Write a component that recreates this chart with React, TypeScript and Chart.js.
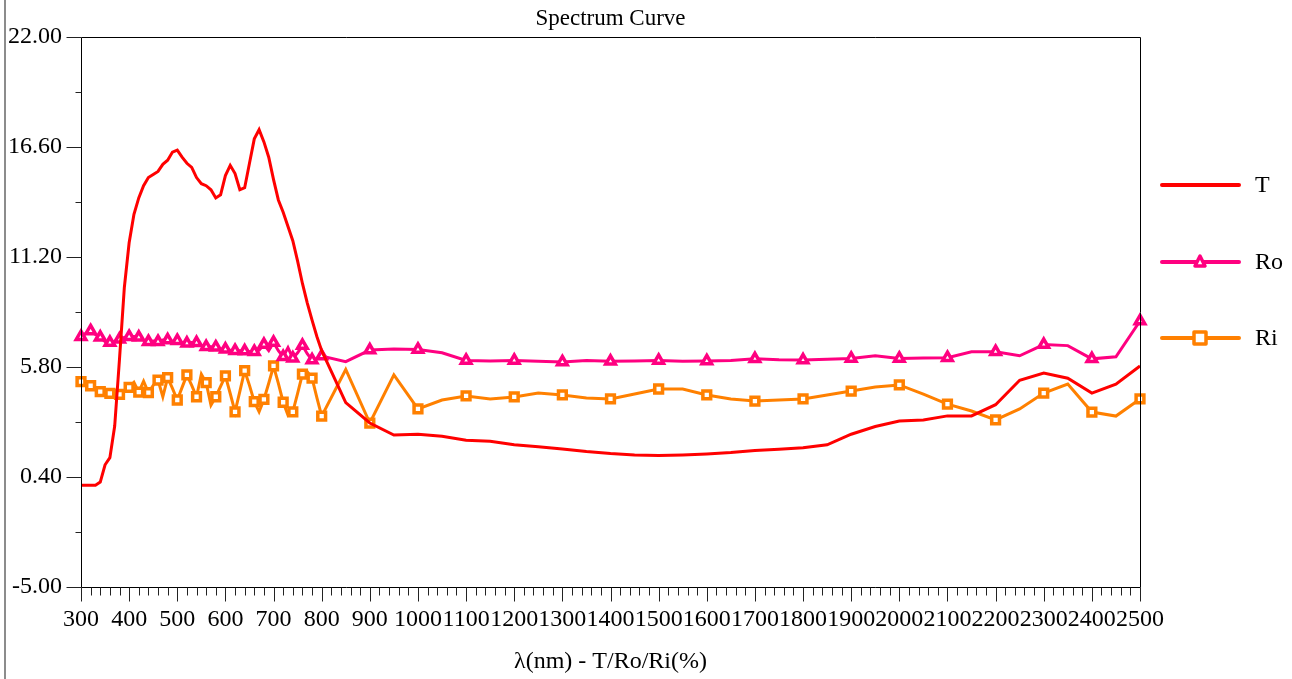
import React, { useEffect, useRef } from "react";
import { Chart, registerables } from "chart.js";

Chart.register(...registerables);

const wavelengths = [
  300, 310, 320, 330, 340, 350, 360, 370, 380, 390,
  400, 410, 420, 430, 440, 450, 460, 470, 480, 490,
  500, 510, 520, 530, 540, 550, 560, 570, 580, 590,
  600, 610, 620, 630, 640, 650, 660, 670, 680, 690,
  700, 710, 720, 730, 740, 750, 760, 770, 780, 790,
  800, 850, 900, 950, 1000, 1050, 1100, 1150, 1200, 1250,
  1300, 1350, 1400, 1450, 1500, 1550, 1600, 1650, 1700, 1750,
  1800, 1850, 1900, 1950, 2000, 2050, 2100, 2150, 2200, 2250,
  2300, 2350, 2400, 2450, 2500,
];

const seriesT = [
  0.0, 0.0, 0.0, 0.0, 0.15, 1.0, 1.35, 2.9, 6.2, 9.7,
  11.9, 13.3, 14.1, 14.7, 15.1, 15.25, 15.4, 15.75, 15.95, 16.35,
  16.45, 16.1, 15.8, 15.6, 15.1, 14.8, 14.7, 14.5, 14.1, 14.25,
  15.2, 15.7, 15.3, 14.5, 14.6, 15.8, 17.0, 17.45, 16.85, 16.1,
  15.0, 14.0, 13.4, 12.7, 12.0, 11.0, 9.9, 8.95, 8.1, 7.3,
  6.6, 4.05, 3.05, 2.46, 2.5, 2.4, 2.2, 2.15, 1.98, 1.88,
  1.78, 1.65, 1.55, 1.48, 1.45, 1.48, 1.53, 1.6, 1.7, 1.76,
  1.84, 1.98, 2.5, 2.88, 3.15, 3.2, 3.4, 3.4, 3.95, 5.15,
  5.5, 5.25, 4.52, 4.96, 5.85,
];

const seriesRo = [
  7.29, 7.45, 7.57, 7.4, 7.26, 7.05, 7.0, 7.06, 7.16, 7.25,
  7.29, 7.3, 7.26, 7.12, 7.04, 7.08, 7.04, 7.12, 7.12, 7.06,
  7.09, 7.0, 6.96, 7.0, 6.99, 6.86, 6.79, 6.8, 6.77, 6.7,
  6.67, 6.62, 6.6, 6.6, 6.58, 6.56, 6.55, 6.62, 6.9, 6.6,
  7.0, 6.6, 6.3, 6.75, 6.23, 6.5, 6.85, 6.45, 6.14, 6.2,
  6.34, 6.06, 6.63, 6.68, 6.66, 6.5, 6.12, 6.1, 6.12, 6.08,
  6.05, 6.12, 6.08, 6.1, 6.12, 6.08, 6.1, 6.12, 6.2, 6.15,
  6.14, 6.18, 6.22, 6.35, 6.22, 6.24, 6.26, 6.55, 6.55, 6.35,
  6.9, 6.85, 6.2, 6.3, 8.06,
];

const seriesRi = [
  5.08, 5.0, 4.88, 4.75, 4.59, 4.55, 4.51, 4.48, 4.46, 4.6,
  4.8, 5.05, 4.57, 5.1, 4.54, 4.9, 5.16, 4.34, 5.28, 4.75,
  4.18, 4.8, 5.41, 4.9, 4.34, 5.45, 5.03, 3.93, 4.34, 4.85,
  5.36, 4.5, 3.6, 4.6, 5.62, 4.9, 4.1, 3.6, 4.21, 5.0,
  5.85, 5.0, 4.07, 3.44, 3.6, 4.5, 5.45, 5.57, 5.25, 4.3,
  3.39, 5.68, 3.05, 5.41, 3.74, 4.18, 4.38, 4.23, 4.33, 4.52,
  4.43, 4.28, 4.23, 4.47, 4.72, 4.72, 4.43, 4.23, 4.13, 4.18,
  4.23, 4.43, 4.62, 4.82, 4.92, 4.47, 3.98, 3.64, 3.2, 3.74,
  4.52, 4.96, 3.59, 3.39, 4.23,
];

const seriesNames = ["T", "Ro", "Ri"];
const yTickValues = [-5, 0.4, 5.8, 11.2, 16.6, 22];
const xTickValues = [
  300, 400, 500, 600, 700, 800, 900, 1000, 1100, 1200, 1300, 1400,
  1500, 1600, 1700, 1800, 1900, 2000, 2100, 2200, 2300, 2400, 2500,
];
const chartTitle = "Spectrum Curve";
const xAxisTitle = "λ(nm) - T/Ro/Ri(%)";

const COLORS = { T: "#ff0000", Ro: "#ff0080", Ri: "#ff8000" };
const FONT = "'Liberation Serif', 'Times New Roman', serif";

const decorPlugin = {
  id: "decor",
  afterDraw(chart: any) {
    const ctx = chart.ctx;
    const { left, right, top, bottom } = chart.chartArea;
    const xs = chart.scales.x;
    const ys = chart.scales.y;
    ctx.save();
    // page left border
    ctx.fillStyle = "#8c8c8c";
    ctx.fillRect(4, 0, 2, chart.height);

    ctx.strokeStyle = "#000";
    ctx.lineWidth = 1;
    const L = Math.round(left) + 0.5;
    const R = Math.round(right) + 0.5;
    const T = Math.round(top) + 0.5;
    const B = Math.round(bottom) + 0.5;
    ctx.beginPath();
    ctx.moveTo(L, T);
    ctx.lineTo(R, T);
    ctx.lineTo(R, B);
    ctx.lineTo(L, B);
    ctx.closePath();
    ctx.stroke();

    ctx.strokeStyle = "#222";
    ctx.beginPath();
    // y ticks
    for (let i = 0; i < yTickValues.length; i++) {
      const y = Math.round(ys.getPixelForValue(yTickValues[i])) + 0.5;
      ctx.moveTo(L - 15, y);
      ctx.lineTo(L, y);
      if (i < yTickValues.length - 1) {
        const mid = (yTickValues[i] + yTickValues[i + 1]) / 2;
        const ym = Math.round(ys.getPixelForValue(mid)) + 0.5;
        ctx.moveTo(L - 6, ym);
        ctx.lineTo(L, ym);
      }
    }
    // x ticks
    for (let v = xTickValues[0]; v <= xTickValues[xTickValues.length - 1]; v += 20) {
      const x = Math.round(xs.getPixelForValue(v)) + 0.5;
      const major = v % 100 === 0;
      ctx.moveTo(x, B);
      ctx.lineTo(x, B + (major ? 14 : 8));
    }
    ctx.stroke();

    // legend
    const legendYs = [185, 262, 338];
    seriesNames.forEach((name, i) => {
      const y = legendYs[i];
      const c = (COLORS as any)[name];
      ctx.strokeStyle = c;
      ctx.lineWidth = 4;
      ctx.lineCap = "round";
      ctx.lineJoin = "round";
      ctx.beginPath();
      ctx.moveTo(1162, y);
      ctx.lineTo(1239, y);
      ctx.stroke();
      ctx.lineWidth = 3.5;
      if (name === "Ro") {
        ctx.fillStyle = "#fff";
        ctx.beginPath();
        ctx.moveTo(1200, y - 6);
        ctx.lineTo(1205, y + 4);
        ctx.lineTo(1195, y + 4);
        ctx.closePath();
        ctx.fill();
        ctx.stroke();
      } else if (name === "Ri") {
        ctx.fillStyle = "#fff";
        ctx.beginPath();
        ctx.rect(1194, y - 6, 12, 12);
        ctx.fill();
        ctx.stroke();
      }
      ctx.fillStyle = "#000";
      ctx.font = `24px ${FONT}`;
      ctx.textAlign = "left";
      ctx.textBaseline = "middle";
      ctx.fillText(name, 1255, y + 1);
    });
    ctx.restore();
  },
};

function makeData(values: number[]) {
  return wavelengths.map((x, i) => ({ x, y: values[i] }));
}

export default function App() {
  const ref = useRef<HTMLCanvasElement | null>(null);
  useEffect(() => {
    if (!ref.current) return;
    Chart.defaults.font.family = FONT;
    Chart.defaults.color = "#000";
    const chart = new Chart(ref.current, {
      type: "line",
      data: {
        datasets: [
          {
            label: seriesNames[0],
            data: makeData(seriesT),
            borderColor: COLORS.T,
            backgroundColor: COLORS.T,
            borderWidth: 3,
            pointRadius: 0,
            tension: 0,
            clip: false as any,
          },
          {
            label: seriesNames[1],
            data: makeData(seriesRo),
            borderColor: COLORS.Ro,
            backgroundColor: "#ffffff",
            borderWidth: 3,
            pointStyle: "triangle",
            pointRadius: (c: any) => (c.dataIndex % 2 === 0 ? 5.5 : 0),
            pointBorderWidth: 3.5,
            pointBorderColor: COLORS.Ro,
            pointBackgroundColor: "#ffffff",
            tension: 0,
            clip: false as any,
          },
          {
            label: seriesNames[2],
            data: makeData(seriesRi),
            borderColor: COLORS.Ri,
            backgroundColor: "#ffffff",
            borderWidth: 3,
            pointStyle: "rect",
            pointRadius: (c: any) => (c.dataIndex % 2 === 0 ? 5.5 : 0),
            pointBorderWidth: 3.5,
            pointBorderColor: COLORS.Ri,
            pointBackgroundColor: "#ffffff",
            tension: 0,
            clip: false as any,
          },
        ],
      },
      options: {
        animation: false,
        responsive: false,
        layout: { padding: { left: 0, right: 152, top: 0, bottom: 0 } },
        plugins: {
          legend: { display: false },
          tooltip: { enabled: false },
          title: {
            display: true,
            text: chartTitle,
            fullSize: false,
            color: "#000",
            font: { family: FONT, size: 23, weight: "normal" },
            padding: { top: 5, bottom: 4.4 },
          },
        },
        scales: {
          x: {
            type: "linear",
            min: 300,
            max: 2500,
            afterFit: (s: any) => {
              s.height = 92;
            },
            afterBuildTicks: (s: any) => {
              s.ticks = xTickValues.map((v) => ({ value: v }));
            },
            grid: { display: false, drawTicks: true, tickLength: 14 },
            border: { display: false },
            ticks: {
              autoSkip: false,
              maxRotation: 0,
              minRotation: 0,
              padding: 4,
              color: "#000",
              font: { family: FONT, size: 24 },
              callback: (v: any) => String(v),
            },
            title: {
              display: true,
              text: xAxisTitle,
              color: "#000",
              font: { family: FONT, size: 24 },
              padding: { top: 0, bottom: 3 },
            },
          },
          y: {
            type: "linear",
            min: -5,
            max: 22,
            afterFit: (s: any) => {
              s.width = 81;
            },
            afterBuildTicks: (s: any) => {
              s.ticks = yTickValues.map((v) => ({ value: v }));
            },
            grid: { display: false, drawTicks: true, tickLength: 15 },
            border: { display: false },
            ticks: {
              padding: 4,
              color: "#000",
              font: { family: FONT, size: 24 },
              callback: (v: any) => Number(v).toFixed(2),
            },
          },
        },
      },
      plugins: [decorPlugin],
    });
    return () => chart.destroy();
  }, []);
  return (
    <div style={{ position: "absolute", left: 0, top: 0, width: 1292, height: 679, background: "#fff" }}>
      <canvas ref={ref} width={1292} height={679} style={{ display: "block" }} />
    </div>
  );
}
